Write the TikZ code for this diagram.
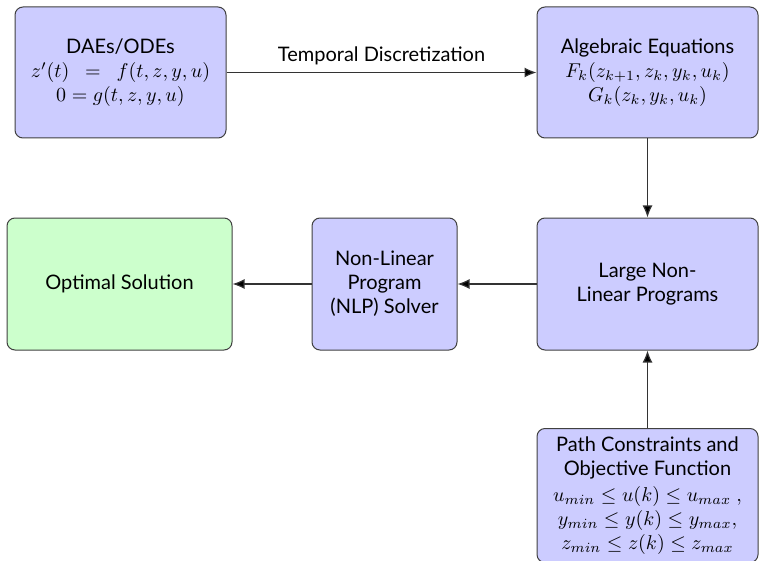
\documentclass[tikz,border=0pt]{standalone}
\usepackage{fontspec}
\setmainfont{Lato}
\usetikzlibrary{arrows.meta}
\begin{document}
\begin{tikzpicture}[x=0.5pt,y=-0.5pt,
  box/.style={draw=black!75, line width=0.5pt, rounded corners=4pt, fill=blue!20, align=center, inner sep=0pt, font=\normalsize},
  gbox/.style={box, fill=green!20},
  conn/.style={draw=black!80, line width=0.6pt, -{Latex[length=6pt,width=5pt,fill=black]}}]
\useasboundingbox (0,0) rectangle (759,561);
\node[box, minimum width=105.5pt, minimum height=65.5pt] (dae) at (120.5,72.5)
  {DAEs/ODEs\\ $z'(t)\ \ =\ \ f(t,z,y,u)$\\ $0=g(t,z,y,u)$};
\node[box, minimum width=110.5pt, minimum height=65.5pt] (alg) at (647.5,72.5)
  {Algebraic Equations\\ $F_k(z_{k+1},z_k,y_k,u_k)$\\ $G_k(z_k,y_k,u_k)$};
\node[box, minimum width=110.5pt, minimum height=66pt] (large) at (647.5,284)
  {Large Non-\\ Linear Programs};
\node[box, minimum width=72.5pt, minimum height=66pt] (nlp) at (384.5,284)
  {Non-Linear\\ Program\\ (NLP) Solver};
\node[gbox, minimum width=112.5pt, minimum height=66pt] (opt) at (119.5,284)
  {Optimal Solution};
\node[box, anchor=north, minimum width=110.5pt, minimum height=67pt] (path) at (647.5,428)
  {Path Constraints and\\ Objective Function\\[1pt] $u_{min}\leq u(k)\leq u_{max}\ ,$\\ $y_{min}\leq y(k)\leq y_{max},$\\ $z_{min}\leq z(k)\leq z_{max}$};
\draw[conn] (dae.east) -- node[above=0pt, font=\normalsize] (lbl) {Temporal Discretization} (alg.west);
\draw[conn] (alg.south) -- (large.north);
\draw[conn] (large.west) -- (nlp.east);
\draw[conn] (nlp.west) -- (opt.east);
\draw[conn] (path.north) -- (large.south);
\end{tikzpicture}
\end{document}
